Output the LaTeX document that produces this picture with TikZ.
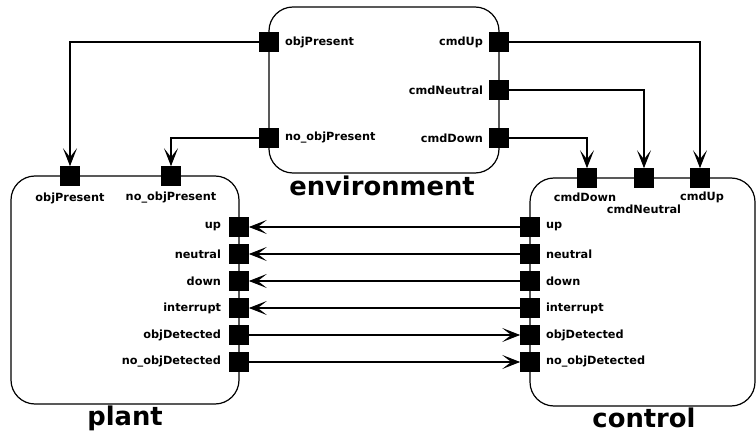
\documentclass[tikz,border=0pt]{standalone}
\usepackage{fontspec}
\setmainfont{DejaVu Sans}
\usetikzlibrary{arrows.meta}
\begin{document}
\begin{tikzpicture}[x=1pt,y=-1pt,
  box/.style={draw=black,line width=1.2pt,rounded corners=24pt},
  port/.style={fill=black,draw=black,minimum size=19pt,inner sep=0pt,line width=0.6pt},
  lbl/.style={font=\fontsize{11.3}{13}\selectfont\bfseries,inner sep=0pt},
  big/.style={font=\fontsize{25.8}{28}\selectfont\bfseries,inner sep=0pt},
  conn/.style={line width=1.1pt,-{Stealth[length=18pt,width=14pt,inset=9pt]}}]
\useasboundingbox (0,0) rectangle (756,433);
% boxes
\draw[box] (269,7) rectangle (499,173);
\draw[box] (11,176) rectangle (239,404);
\draw[box] (530,178) rectangle (755,406);
% titles
\node[big,anchor=base] (tenv) at (382,196) {environment};
\node[big,anchor=base] (tplant) at (125,425) {plant};
\node[big,anchor=base] (tctrl) at (644,427) {control};
% environment ports
\node[port] (eop) at (269,42) {};
\node[port] (enop) at (269,138) {};
\node[port] (eup) at (499,42) {};
\node[port] (eneu) at (499,90) {};
\node[port] (edn) at (499,138) {};
\node[lbl,anchor=west] (leop) at ([xshift=6pt]eop.east) {objPresent};
\node[lbl,anchor=west] (lenop) at ([xshift=6pt]enop.east) {no\_objPresent};
\node[lbl,anchor=east] (leup) at ([xshift=-6pt]eup.west) {cmdUp};
\node[lbl,anchor=east] (leneu) at ([xshift=-6pt]eneu.west) {cmdNeutral};
\node[lbl,anchor=east] (ledn) at ([xshift=-6pt]edn.west) {cmdDown};
% plant ports
\node[port] (pop) at (70,176) {};
\node[port] (pnop) at (171,176) {};
\node[lbl] (lpop) at (70,198) {objPresent};
\node[lbl] (lpnop) at (171,198) {no\_objPresent};
\foreach \n/\t/\y in {up/up/227,neu/neutral/254,dn/down/281,int/interrupt/308,od/objDetected/335,nod/no\_objDetected/362}{
  \node[port] (p\n) at (239,\y) {};
  \node[lbl,anchor=east] (lp\n) at ([xshift=-8pt]p\n.west) {\t};
  \node[port] (c\n) at (530,\y) {};
  \node[lbl,anchor=west] (lc\n) at ([xshift=6pt]c\n.east) {\t};
}
% control top ports
\node[port] (ctdn) at (587,178) {};
\node[port] (ctneu) at (644,178) {};
\node[port] (ctup) at (700,178) {};
\node[lbl] (lctdn) at (585,197) {cmdDown};
\node[lbl] (lctneu) at (644,209) {cmdNeutral};
\node[lbl] (lctup) at (702,197) {cmdUp};
% connectors
\draw[conn] (eop.west) -| (pop.north);
\draw[conn] (enop.west) -| (pnop.north);
\draw[conn] (eup.east) -| (ctup.north);
\draw[conn] (eneu.east) -| (ctneu.north);
\draw[conn] (edn.east) -| (ctdn.north);
\draw[conn] (cup.west) -- (pup.east);
\draw[conn] (cneu.west) -- (pneu.east);
\draw[conn] (cdn.west) -- (pdn.east);
\draw[conn] (cint.west) -- (pint.east);
\draw[conn] (pod.east) -- (cod.west);
\draw[conn] (pnod.east) -- (cnod.west);
\end{tikzpicture}
\end{document}
